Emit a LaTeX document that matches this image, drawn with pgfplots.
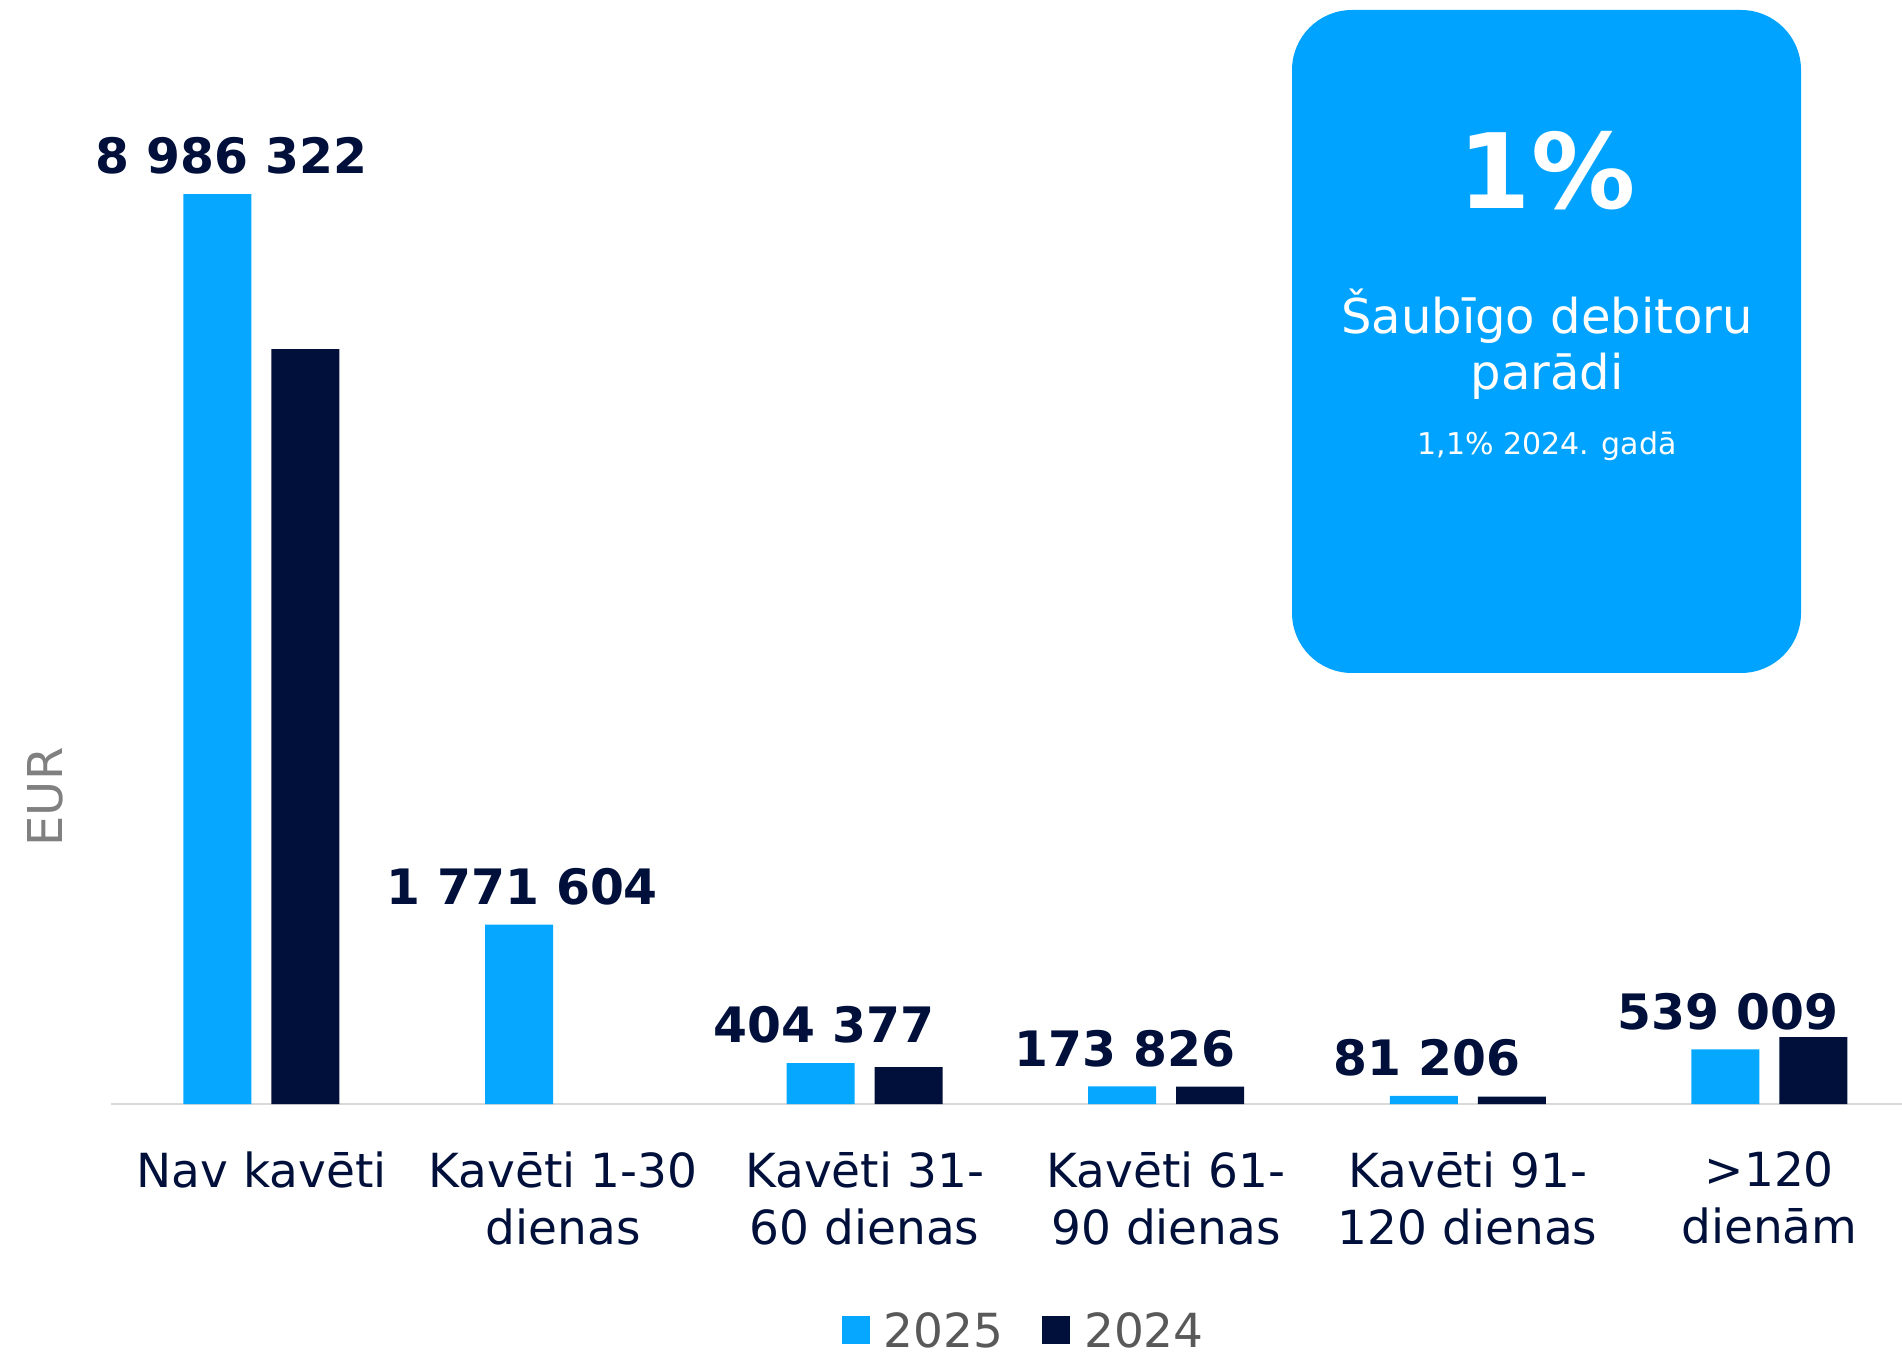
\documentclass[border=0pt]{standalone}
\usepackage{fontspec}
\setmainfont{DejaVu Sans}
\usepackage{pgfplots}
\pgfplotsset{compat=1.18}
\definecolor{barblue}{HTML}{06A8FF}
\definecolor{navy}{HTML}{00103A}
\definecolor{boxblue}{HTML}{00A3FF}
\definecolor{leggray}{HTML}{595959}
\definecolor{eurgray}{HTML}{808080}
\definecolor{axgray}{HTML}{D9D9D9}
\begin{document}
\begin{tikzpicture}
\path[use as bounding box] (0,0) rectangle (951pt,678.5pt);
\fill[boxblue, rounded corners=30pt] (646pt,342pt) rectangle (900.5pt,673.5pt);
\node[anchor=base, text=white, inner sep=0pt, font=\bfseries\fontsize{52}{52}\selectfont] at (773.5pt,574.4pt) {1\%};
\node[anchor=base, text=white, inner sep=0pt, font=\fontsize{24}{24}\selectfont] at (773.5pt,511.9pt) {Šaubīgo debitoru};
\node[anchor=base, text=white, inner sep=0pt, font=\fontsize{24}{24}\selectfont] at (773.5pt,483.5pt) {parādi};
\node[anchor=base, text=white, inner sep=0pt, font=\fontsize{15}{15}\selectfont] at (773.5pt,451.4pt) {1,1\% 2024. gadā};
\begin{axis}[
  at={(55.5pt,126.5pt)}, anchor=south west,
  scale only axis, width=895.5pt, height=506.3pt,
  xmin=-0.499, xmax=5.44, ymin=0, ymax=10000000,
  axis x line*=bottom, axis y line=none,
  x axis line style={draw=axgray, line width=1pt},
  ytick=\empty,
  xtick={0,1,2,3,4,5}, major tick length=0pt,
  xticklabels={Nav kavēti, {Kavēti 1-30\\dienas}, {Kavēti 31-\\60 dienas}, {Kavēti 61-\\90 dienas}, {Kavēti 91-\\120 dienas}, {>120\\dienām}},
  xticklabel style={font=\fontsize{23.5}{28.5}\selectfont, text=navy, align=center, inner sep=0pt, anchor=north, yshift=-23.5pt},
  ybar=10pt, bar width=34pt,
  legend image code/.code={\fill[#1] (0pt,-6.5pt) rectangle (14pt,7.5pt);},
  legend columns=2,
  legend style={at={(0.509,-0.2430)}, anchor=south, draw=none, fill=none,
    inner sep=0pt, outer sep=0pt,
    font=\fontsize{23.5}{23.5}\selectfont, text=leggray,
    nodes={inner sep=0pt}, column sep=7pt,
    /tikz/every even column/.append style={column sep=19.5pt}},
  clip=false,
]
\addplot[fill=barblue, draw=none,
  point meta=explicit symbolic,
  nodes near coords,
  every node near coord/.append style={font=\bfseries\fontsize{24.4}{24.4}\selectfont, text=navy, inner sep=0pt, anchor=south, yshift=9.5pt, xshift={(\coordindex==0)*5.5pt+1.5pt}}]
  coordinates {(0,8986322) [8 986 322] (1,1771604) [1 771 604] (2,404377) [404 377] (3,173826) [173 826] (4,81206) [81 206] (5,539009) [539 009]};
\addplot[fill=navy, draw=none]
  coordinates {(0,7456000) (2,365000) (3,172000) (4,72000) (5,661000)};
\legend{2025,2024}
\node[rotate=90, text=eurgray, font=\fontsize{24}{24}\selectfont, inner sep=0pt] at (rel axis cs:-0.0369,0.3032) {EUR};
\end{axis}
\end{tikzpicture}
\end{document}
